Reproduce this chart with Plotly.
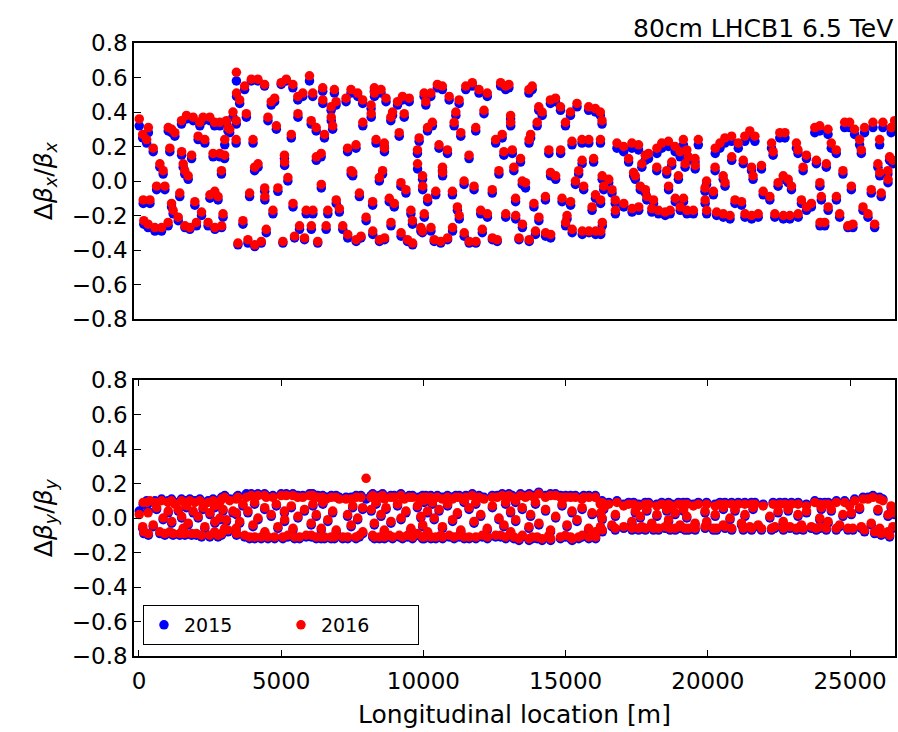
import plotly.graph_objects as go

# BPM longitudinal positions [m]
s_pos = [
    10, 130, 150, 170, 270, 320, 330, 385, 500, 560,
    620, 735, 795, 850, 910, 1025, 1030, 1085, 1145, 1150,
    1200, 1260, 1380, 1435, 1495, 1500, 1555, 1610, 1615, 1670,
    1730, 1790, 1850, 1905, 1965, 2020, 2080, 2140, 2200, 2255,
    2315, 2430, 2490, 2495, 2605, 2660, 2665, 2670, 2780, 2840,
    2845, 2900, 2905, 2955, 3010, 3015, 3075, 3130, 3190, 3305,
    3415, 3420, 3425, 3430, 3480, 3540, 3655, 3715, 3775, 3830,
    3890, 3950, 4010, 4065, 4070, 4180, 4185, 4300, 4415, 4420,
    4425, 4475, 4535, 4650, 4710, 4770, 4830, 4885, 5000, 5060,
    5115, 5120, 5180, 5235, 5355, 5410, 5415, 5470, 5585, 5590,
    5645, 5760, 5820, 5880, 5995, 6055, 6060, 6110, 6115, 6230,
    6235, 6285, 6405, 6410, 6460, 6465, 6520, 6580, 6640, 6755,
    6760, 6810, 6870, 6930, 6935, 7045, 7165, 7280, 7335, 7340,
    7455, 7460, 7515, 7630, 7635, 7690, 7750, 7805, 7865, 7870,
    7985,
    8160, 8165, 8215, 8220, 8275, 8280, 8335, 8450, 8455, 8510,
    8565, 8625, 8630, 8635, 8685, 8800, 8855, 8860, 8915, 8975,
    9090, 9150, 9210, 9215, 9265, 9325, 9385, 9440, 9500, 9560,
    9615, 9620, 9790, 9795, 9850, 9910, 9965, 9970, 9975, 10025,
    10030, 10085, 10145, 10150, 10260, 10265, 10315, 10380, 10435, 10490,
    10550, 10610, 10665, 10670, 10675, 10845, 10850, 10905, 11020, 11025,
    11080, 11140, 11195, 11255, 11260, 11315, 11430, 11435, 11490, 11605,
    11610, 11720, 11780, 11840, 11845, 11955, 12015, 12070, 12130, 12245,
    12250, 12420, 12425, 12540, 12595, 12655, 12715, 12770, 12830, 12890,
    12895, 13005, 13065, 13070, 13125, 13180, 13240, 13245, 13360, 13415,
    13475, 13480, 13590, 13710, 13715, 13720, 13770, 13825, 13885, 13940,
    14000, 14055, 14060, 14175, 14290, 14295, 14410, 14465, 14470, 14475,
    14645, 14650, 14820, 14825, 14875, 14995, 15000, 15050, 15170, 15175,
    15225, 15230, 15345, 15400, 15460, 15575, 15580, 15585, 15635, 15810,
    15815, 15820, 15930, 15985, 16045, 16050, 16055,
    16220, 16225, 16230, 16235, 16280, 16285, 16290, 16340, 16515, 16630,
    16745, 16750, 16805, 17040, 17045, 17215, 17330, 17335, 17390, 17450,
    17565, 17570, 17625, 17680, 17800, 17805, 17855, 17915, 18030, 18090,
    18205, 18210, 18265, 18380, 18500, 18555, 18615, 18620, 18675, 18730,
    18850, 18855, 18965, 19025, 19030, 19140, 19145, 19200, 19260, 19265,
    19315, 19490, 19550, 19555, 19665, 19900, 19905, 19955, 19960, 20195,
    20255, 20260, 20310, 20425, 20540, 20545, 20600, 20605, 20780, 20835,
    20840, 20955, 21070, 21185, 21245, 21300, 21305, 21475, 21535, 21540,
    21590, 21655, 21770, 21885, 21945, 22180, 22240, 22295, 22355, 22470,
    22530, 22650, 22655, 22710, 22825, 22885, 22940, 23115, 23170, 23175,
    23290, 23350, 23465, 23470, 23640, 23760, 23815, 23935, 23940, 23945,
    23990, 24110, 24165, 24225, 24230, 24340, 24515, 24520, 24635, 24750,
    24810, 24925, 24985, 25045, 25100, 25160, 25335, 25395, 25455, 25510,
    25630, 25745, 25805, 25865, 25980, 26040, 26045, 26095, 26155, 26330,
    26335, 26390, 26445, 26505, 26565,
]

# Horizontal beta-beating, 2016
bx_2016 = [
    0.36, 0.27, -0.11, -0.23, 0.24, -0.25, 0.31, -0.11, 0.19, -0.27,
    -0.03, 0.10, -0.27, 0.06, -0.03, -0.24, 0.31, 0.19, -0.13, 0.30,
    -0.17, 0.28, -0.21, -0.07, 0.35, 0.17, 0.10, 0.06, -0.26, 0.38,
    0.03, -0.27, 0.15, 0.37, -0.12, -0.24, 0.26, 0.34, -0.18, 0.37,
    0.24, -0.24, 0.37, -0.08, 0.16, 0.34, -0.06, -0.27, -0.09, 0.34,
    0.16, 0.06, -0.26, -0.19, 0.15, 0.24, 0.35, 0.31, 0.30, 0.40,
    0.24, 0.35, 0.63, 0.51, -0.36, 0.47, -0.23, 0.55, 0.39, -0.34,
    -0.07, 0.59, 0.24, 0.08, -0.37, 0.59, 0.10, -0.35, 0.56, -0.04,
    -0.09, -0.28, 0.37, 0.46, -0.17, 0.48, 0.32, -0.04, 0.57, -0.35,
    0.15, 0.11, 0.59, 0.02, 0.27, 0.56, -0.13, -0.32, 0.49, 0.39,
    -0.26, 0.51, -0.33, -0.17, 0.61, 0.35, -0.26, 0.51, -0.17, 0.31,
    0.14, -0.35, 0.16, -0.02, 0.54, 0.47, 0.27, -0.26, -0.17, 0.43,
    0.37, 0.32, 0.53, 0.46, -0.11, -0.16, -0.26, 0.48, 0.19, -0.31,
    0.53, 0.06, 0.05, 0.21, -0.34, 0.51, -0.07, -0.32, 0.47, 0.34,
    -0.21,
    0.44, 0.39, -0.12, -0.29, 0.54, 0.51, 0.24, 0.02, -0.34, 0.53,
    0.06, 0.22, 0.19, -0.33, 0.48, -0.10, 0.37, -0.24, 0.40, -0.13,
    0.46, 0.28, -0.01, -0.30, 0.49, 0.39, -0.05, -0.34, 0.48, -0.17,
    -0.23, -0.36, 0.18, 0.10, 0.25, -0.27, -0.29, 0.03, -0.03, 0.51,
    -0.19, 0.46, 0.31, -0.10, 0.51, -0.27, 0.34, -0.34, -0.06, 0.56,
    0.21, -0.35, 0.55, 0.08, 0.05, 0.18, -0.33, 0.49, -0.06, -0.27,
    0.34, 0.40, -0.15, 0.47, -0.20, 0.28, 0.00, -0.30, 0.55, 0.15,
    -0.35, 0.57, -0.03, 0.31, -0.35, 0.53, -0.17, -0.28, 0.41, 0.51,
    -0.19, -0.05, -0.33, 0.24, -0.34, 0.06, 0.57, 0.27, 0.17, 0.55,
    -0.19, 0.56, 0.38, 0.34, 0.18, 0.08, -0.10, -0.20, -0.33, 0.13,
    0.00, -0.25, -0.01, 0.53, 0.24, -0.34, 0.27, 0.55, -0.13, -0.29,
    0.34, 0.43, -0.21, 0.40, -0.09, -0.30, 0.18, 0.47, 0.05, -0.31,
    0.48, 0.03, 0.43, 0.18, -0.10, 0.34, -0.24, -0.20, 0.40, -0.12,
    0.23, -0.28, 0.00, 0.45, 0.06, 0.24, 0.12, -0.29, -0.03, 0.43,
    0.24, -0.29, -0.15, 0.13, 0.42, -0.08, -0.29,
    0.40, 0.24, -0.11, -0.29, 0.35, 0.03, -0.24, -0.03, 0.01, -0.05,
    -0.11, -0.17, 0.22, 0.20, -0.13, 0.13, 0.22, -0.16, 0.05, 0.03,
    0.21, -0.15, -0.03, 0.10, 0.15, -0.05, -0.09, 0.16, -0.16, -0.11,
    0.08, 0.19, -0.17, 0.22, -0.18, 0.06, 0.23, -0.03, -0.17, 0.11,
    0.20, -0.10, 0.03, 0.17, -0.15, 0.24, -0.10, 0.10, 0.18, -0.17,
    0.14, -0.17, 0.13, 0.09, 0.24, -0.04, -0.11, 0.00, -0.17, -0.06,
    0.08, 0.19, -0.18, 0.22, 0.03, -0.19, 0.25, -0.01, -0.20, 0.26,
    0.14, -0.11, 0.22, -0.12, 0.12, 0.26, -0.19, 0.29, 0.08, -0.20,
    0.03, 0.26, -0.19, 0.09, -0.06, -0.09, 0.22, 0.17, -0.19, -0.01,
    0.28, 0.03, -0.20, 0.28, 0.01, -0.20, -0.03, 0.22, 0.18, -0.19,
    -0.11, 0.08, 0.15, -0.15, -0.13, 0.31, 0.12, 0.32, -0.01, -0.24,
    -0.09, -0.24, 0.10, 0.30, -0.15, 0.22, 0.18, -0.09, -0.19, 0.06,
    0.34, -0.26, 0.34, -0.03, -0.25, 0.30, 0.24, 0.18, -0.15, 0.31,
    -0.19, -0.05, 0.34, -0.25, 0.10, 0.24, 0.05, -0.07, 0.34, 0.06,
    0.01, 0.14, 0.31, 0.12, 0.35,
]

# Horizontal beta-beating, 2015
bx_2015 = [
    0.32, 0.25, -0.13, -0.25, 0.22, -0.27, 0.28, -0.13, 0.17, -0.29,
    -0.05, 0.08, -0.29, 0.04, -0.05, -0.26, 0.29, 0.17, -0.15, 0.28,
    -0.19, 0.26, -0.23, -0.09, 0.33, 0.15, 0.08, 0.04, -0.27, 0.36,
    0.01, -0.28, 0.13, 0.35, -0.14, -0.26, 0.24, 0.32, -0.20, 0.35,
    0.22, -0.26, 0.35, -0.10, 0.14, 0.32, -0.08, -0.28, -0.11, 0.32,
    0.14, 0.04, -0.27, -0.21, 0.13, 0.21, 0.33, 0.29, 0.28, 0.37,
    0.22, 0.33, 0.58, 0.49, -0.37, 0.45, -0.25, 0.53, 0.37, -0.36,
    -0.09, 0.58, 0.22, 0.06, -0.38, 0.58, 0.08, -0.36, 0.55, -0.06,
    -0.11, -0.30, 0.35, 0.44, -0.19, 0.46, 0.30, -0.06, 0.56, -0.36,
    0.13, 0.09, 0.58, 0.00, 0.25, 0.54, -0.15, -0.33, 0.47, 0.37,
    -0.28, 0.49, -0.34, -0.19, 0.58, 0.33, -0.28, 0.49, -0.19, 0.29,
    0.12, -0.36, 0.14, -0.04, 0.52, 0.45, 0.25, -0.28, -0.19, 0.41,
    0.35, 0.30, 0.51, 0.44, -0.13, -0.18, -0.28, 0.46, 0.17, -0.33,
    0.51, 0.04, 0.03, 0.19, -0.35, 0.49, -0.09, -0.33, 0.45, 0.32,
    -0.23,
    0.42, 0.37, -0.14, -0.31, 0.52, 0.49, 0.22, 0.00, -0.35, 0.51,
    0.04, 0.20, 0.17, -0.34, 0.46, -0.12, 0.35, -0.26, 0.38, -0.15,
    0.44, 0.26, -0.03, -0.32, 0.47, 0.37, -0.07, -0.35, 0.46, -0.19,
    -0.25, -0.37, 0.16, 0.07, 0.23, -0.29, -0.30, 0.01, -0.05, 0.49,
    -0.21, 0.44, 0.29, -0.12, 0.49, -0.29, 0.32, -0.35, -0.08, 0.54,
    0.19, -0.36, 0.53, 0.06, 0.03, 0.16, -0.34, 0.47, -0.08, -0.29,
    0.32, 0.38, -0.17, 0.45, -0.22, 0.26, -0.02, -0.32, 0.53, 0.13,
    -0.36, 0.55, -0.05, 0.29, -0.36, 0.51, -0.19, -0.30, 0.39, 0.49,
    -0.21, -0.07, -0.34, 0.22, -0.35, 0.04, 0.55, 0.25, 0.15, 0.53,
    -0.21, 0.54, 0.36, 0.32, 0.16, 0.06, -0.12, -0.22, -0.34, 0.11,
    -0.02, -0.27, -0.04, 0.51, 0.22, -0.35, 0.25, 0.53, -0.15, -0.31,
    0.32, 0.41, -0.23, 0.38, -0.11, -0.32, 0.16, 0.45, 0.03, -0.33,
    0.46, 0.01, 0.41, 0.16, -0.12, 0.32, -0.26, -0.22, 0.38, -0.14,
    0.21, -0.30, -0.02, 0.43, 0.04, 0.22, 0.10, -0.31, -0.05, 0.41,
    0.22, -0.30, -0.17, 0.11, 0.40, -0.10, -0.31,
    0.38, 0.22, -0.13, -0.31, 0.33, 0.01, -0.26, -0.05, -0.01, -0.07,
    -0.13, -0.19, 0.19, 0.17, -0.15, 0.11, 0.19, -0.18, 0.03, 0.01,
    0.18, -0.17, -0.05, 0.08, 0.12, -0.07, -0.11, 0.13, -0.18, -0.13,
    0.06, 0.16, -0.19, 0.19, -0.20, 0.04, 0.20, -0.05, -0.19, 0.09,
    0.17, -0.12, 0.01, 0.14, -0.17, 0.21, -0.12, 0.08, 0.15, -0.19,
    0.12, -0.19, 0.11, 0.07, 0.21, -0.06, -0.13, -0.02, -0.19, -0.08,
    0.06, 0.16, -0.20, 0.19, 0.01, -0.21, 0.22, -0.03, -0.22, 0.23,
    0.12, -0.13, 0.19, -0.14, 0.10, 0.23, -0.21, 0.26, 0.06, -0.22,
    0.01, 0.23, -0.21, 0.07, -0.08, -0.11, 0.19, 0.15, -0.21, -0.03,
    0.25, 0.01, -0.22, 0.25, -0.01, -0.22, -0.05, 0.19, 0.16, -0.21,
    -0.13, 0.06, 0.13, -0.17, -0.15, 0.28, 0.10, 0.29, -0.03, -0.26,
    -0.11, -0.26, 0.08, 0.27, -0.17, 0.19, 0.16, -0.11, -0.21, 0.04,
    0.31, -0.27, 0.31, -0.05, -0.27, 0.27, 0.21, 0.16, -0.17, 0.28,
    -0.21, -0.07, 0.31, -0.27, 0.08, 0.21, 0.03, -0.09, 0.31, 0.04,
    -0.01, 0.12, 0.28, 0.10, 0.32,
]

# Vertical beta-beating, 2016
by_2016 = [
    0.02, -0.05, 0.09, -0.08, 0.09, 0.03, -0.09, 0.10, -0.04, 0.09,
    0.06, -0.08, 0.10, 0.00, -0.09, 0.09, 0.04, -0.08, 0.10, -0.02,
    -0.09, 0.08, 0.05, -0.09, 0.10, 0.01, -0.06, 0.09, -0.09, 0.07,
    -0.03, 0.10, -0.09, 0.04, 0.09, -0.09, 0.01, 0.10, -0.10, 0.06,
    -0.05, 0.09, -0.10, 0.03, 0.10, -0.08, 0.07, -0.02, -0.10, 0.09,
    0.00, -0.09, 0.11, 0.05, -0.06, 0.12, -0.01, -0.07, 0.10, 0.04,
    -0.06, 0.11, 0.03, -0.09, 0.12, -0.02, 0.08, -0.10, 0.12, 0.04,
    -0.11, 0.13, -0.04, 0.09, -0.11, 0.13, 0.00, -0.11, 0.13, 0.06,
    -0.08, 0.12, -0.11, 0.02, 0.12, -0.11, 0.08, -0.05, 0.13, -0.11,
    0.04, -0.01, 0.13, -0.10, 0.07, 0.13, -0.06, -0.11, 0.12, 0.01,
    -0.11, 0.12, 0.05, -0.10, 0.13, -0.03, -0.10, 0.13, 0.08, -0.11,
    0.02, 0.12, -0.11, -0.06, 0.12, 0.09, -0.11, 0.11, -0.01, -0.11,
    0.12, 0.04, -0.11, 0.12, -0.07, 0.11, -0.11, 0.11, 0.02, -0.11,
    0.11, -0.04, 0.07, -0.11, 0.12, 0.00, -0.10, 0.12, 0.06, -0.08,
    0.23,
    0.12, 0.05, -0.10, 0.13, -0.03, -0.11, 0.09, 0.12, -0.11, 0.02,
    0.13, -0.07, -0.11, 0.11, 0.06, -0.10, 0.12, -0.02, -0.11, 0.12,
    0.08, -0.10, 0.13, 0.00, -0.11, 0.11, 0.04, -0.10, 0.12, -0.06,
    -0.11, 0.12, 0.07, -0.09, 0.11, 0.01, -0.11, 0.12, -0.04, 0.10,
    -0.11, 0.12, 0.04, -0.08, 0.12, -0.11, 0.09, 0.00, -0.11, 0.12,
    0.05, -0.10, 0.11, -0.05, -0.11, 0.12, 0.08, -0.10, 0.11, -0.01,
    -0.11, 0.12, 0.03, -0.10, 0.12, -0.07, 0.10, -0.11, 0.12, 0.06,
    -0.11, 0.13, -0.02, 0.09, -0.11, 0.12, 0.02, -0.10, 0.11, -0.06,
    -0.11, 0.12, 0.07, -0.10, 0.12, 0.00, -0.10, 0.13, -0.04, 0.09,
    -0.11, 0.13, 0.04, -0.08, 0.12, -0.11, 0.10, -0.01, -0.12, 0.13,
    0.06, -0.10, 0.12, -0.05, -0.12, 0.13, 0.02, -0.11, 0.12, 0.09,
    -0.11, 0.14, -0.03, -0.12, 0.12, 0.05, -0.10, 0.13, -0.07, -0.12,
    0.13, 0.01, -0.11, 0.12, 0.08, -0.10, 0.12, -0.04, -0.11, 0.12,
    0.04, -0.12, 0.12, -0.01, -0.11, 0.11, 0.06, -0.10, 0.12, -0.06,
    -0.11, 0.12, 0.03, -0.10, 0.12, -0.08, -0.11,
    0.08, -0.05, 0.03, -0.06, 0.09, 0.00, -0.07, 0.06, 0.08, -0.04,
    -0.06, 0.02, 0.09, 0.07, -0.05, 0.08, -0.02, -0.06, 0.08, 0.04,
    -0.06, 0.07, 0.01, -0.05, 0.08, -0.06, 0.05, 0.08, -0.03, -0.06,
    0.07, 0.02, -0.06, 0.08, -0.05, 0.05, 0.08, -0.01, -0.06, 0.07,
    0.03, -0.06, 0.08, -0.04, -0.05, 0.08, 0.05, -0.06, 0.01, 0.08,
    -0.06, 0.07, -0.03, -0.06, 0.08, 0.04, -0.05, 0.08, -0.02, -0.06,
    0.07, 0.02, -0.06, 0.08, -0.04, 0.06, 0.08, -0.05, 0.00, 0.08,
    -0.06, 0.05, 0.08, -0.03, -0.06, 0.08, 0.02, -0.05, 0.08, -0.06,
    0.06, 0.08, -0.04, -0.06, 0.07, 0.01, -0.06, 0.08, -0.05, 0.04,
    0.08, -0.02, -0.06, 0.08, 0.05, -0.05, 0.08, -0.06, 0.02, 0.08,
    -0.04, -0.06, 0.07, 0.04, -0.05, 0.09, -0.06, 0.00, 0.08, -0.05,
    0.06, 0.08, -0.06, -0.02, 0.08, 0.05, -0.06, 0.09, -0.04, 0.02,
    0.09, -0.06, 0.07, 0.03, -0.06, 0.10, 0.06, -0.05, 0.11, -0.07,
    0.11, -0.03, 0.12, -0.08, 0.05, 0.11, -0.06, -0.09, 0.10, -0.08,
    0.02, -0.10, 0.07, -0.05, 0.03,
]

# Vertical beta-beating, 2015
by_2015 = [
    0.04, -0.06, 0.08, -0.09, 0.10, 0.04, -0.10, 0.09, -0.05, 0.10,
    0.05, -0.09, 0.11, -0.01, -0.10, 0.10, 0.03, -0.09, 0.11, -0.03,
    -0.10, 0.09, 0.04, -0.10, 0.11, 0.00, -0.07, 0.10, -0.10, 0.06,
    -0.04, 0.11, -0.10, 0.03, 0.10, -0.10, 0.00, 0.11, -0.11, 0.05,
    -0.06, 0.10, -0.11, 0.02, 0.11, -0.09, 0.06, -0.03, -0.11, 0.10,
    -0.01, -0.10, 0.12, 0.04, -0.07, 0.13, -0.02, -0.08, 0.11, 0.03,
    -0.07, 0.12, 0.02, -0.10, 0.13, -0.03, 0.07, -0.11, 0.14, 0.03,
    -0.12, 0.14, -0.05, 0.08, -0.12, 0.14, -0.01, -0.12, 0.14, 0.05,
    -0.09, 0.13, -0.12, 0.01, 0.13, -0.12, 0.07, -0.06, 0.14, -0.12,
    0.03, -0.02, 0.14, -0.11, 0.06, 0.14, -0.07, -0.12, 0.13, 0.00,
    -0.12, 0.13, 0.04, -0.11, 0.14, -0.04, -0.11, 0.14, 0.07, -0.12,
    0.01, 0.13, -0.12, -0.07, 0.13, 0.08, -0.12, 0.12, -0.02, -0.12,
    0.13, 0.03, -0.12, 0.13, -0.08, 0.12, -0.12, 0.12, 0.01, -0.12,
    0.12, -0.05, 0.06, -0.12, 0.13, -0.01, -0.11, 0.13, 0.05, -0.09,
    0.11,
    0.13, 0.04, -0.11, 0.14, -0.04, -0.12, 0.08, 0.13, -0.12, 0.01,
    0.14, -0.08, -0.12, 0.12, 0.05, -0.11, 0.13, -0.03, -0.12, 0.13,
    0.07, -0.11, 0.14, -0.01, -0.12, 0.12, 0.03, -0.11, 0.13, -0.07,
    -0.12, 0.13, 0.06, -0.10, 0.12, 0.00, -0.12, 0.13, -0.05, 0.09,
    -0.12, 0.13, 0.03, -0.09, 0.13, -0.12, 0.08, -0.01, -0.12, 0.13,
    0.04, -0.11, 0.12, -0.06, -0.12, 0.13, 0.07, -0.11, 0.12, -0.02,
    -0.12, 0.13, 0.02, -0.11, 0.13, -0.08, 0.09, -0.12, 0.13, 0.05,
    -0.12, 0.14, -0.03, 0.08, -0.12, 0.13, 0.01, -0.11, 0.12, -0.07,
    -0.12, 0.13, 0.06, -0.11, 0.13, -0.01, -0.11, 0.14, -0.05, 0.08,
    -0.12, 0.14, 0.03, -0.09, 0.13, -0.12, 0.09, -0.02, -0.13, 0.14,
    0.05, -0.11, 0.13, -0.06, -0.13, 0.14, 0.01, -0.12, 0.13, 0.08,
    -0.12, 0.15, -0.04, -0.13, 0.13, 0.04, -0.11, 0.14, -0.08, -0.13,
    0.14, 0.00, -0.12, 0.13, 0.07, -0.11, 0.13, -0.05, -0.12, 0.13,
    0.03, -0.13, 0.13, -0.02, -0.12, 0.12, 0.05, -0.11, 0.13, -0.07,
    -0.12, 0.13, 0.02, -0.11, 0.13, -0.09, -0.12,
    0.09, -0.06, 0.02, -0.07, 0.10, -0.01, -0.08, 0.05, 0.09, -0.05,
    -0.07, 0.01, 0.10, 0.08, -0.06, 0.09, -0.03, -0.07, 0.09, 0.03,
    -0.07, 0.08, 0.00, -0.06, 0.09, -0.07, 0.04, 0.09, -0.04, -0.07,
    0.08, 0.01, -0.07, 0.09, -0.06, 0.04, 0.09, -0.02, -0.07, 0.08,
    0.02, -0.07, 0.09, -0.05, -0.06, 0.09, 0.04, -0.07, 0.00, 0.09,
    -0.07, 0.08, -0.04, -0.07, 0.09, 0.03, -0.06, 0.09, -0.03, -0.07,
    0.08, 0.01, -0.07, 0.09, -0.05, 0.05, 0.09, -0.06, -0.01, 0.09,
    -0.07, 0.04, 0.09, -0.04, -0.07, 0.09, 0.01, -0.06, 0.09, -0.07,
    0.05, 0.09, -0.05, -0.07, 0.08, 0.00, -0.07, 0.09, -0.06, 0.03,
    0.09, -0.03, -0.07, 0.09, 0.04, -0.06, 0.09, -0.07, 0.01, 0.09,
    -0.05, -0.07, 0.08, 0.03, -0.06, 0.10, -0.07, -0.01, 0.09, -0.06,
    0.05, 0.09, -0.07, -0.03, 0.09, 0.04, -0.07, 0.10, -0.05, 0.01,
    0.10, -0.07, 0.08, 0.02, -0.07, 0.11, 0.05, -0.06, 0.12, -0.08,
    0.12, -0.04, 0.13, -0.09, 0.04, 0.12, -0.07, -0.10, 0.11, -0.09,
    0.01, -0.11, 0.06, -0.06, 0.02,
]

years = ["2015", "2016"]
colors = {"2015": "#0000ff", "2016": "#ff0000"}
y_ticks = [-0.8, -0.6, -0.4, -0.2, 0.0, 0.2, 0.4, 0.6, 0.8]
x_ticks = [0, 5000, 10000, 15000, 20000, 25000]

n = len(s_pos)
for name, arr in [("bx_2016", bx_2016), ("bx_2015", bx_2015), ("by_2016", by_2016), ("by_2015", by_2015)]:
    assert len(arr) == n, (name, len(arr), n)

FONT = "DejaVu Sans"
W, H = 898, 732
ML, MR, MT, MB = 134, 1, 43, 76
plot_h = H - MT - MB
panel_h = 276
top_dom = [1 - panel_h / plot_h, 1]
bot_dom = [0, panel_h / plot_h]

series = {
    ("2015", "x"): bx_2015, ("2016", "x"): bx_2016,
    ("2015", "y"): by_2015, ("2016", "y"): by_2016,
}

fig = go.Figure()
for plane, xa, ya in [("x", "x", "y"), ("y", "x2", "y2")]:
    for yr in years:
        fig.add_trace(go.Scatter(
            x=s_pos, y=series[(yr, plane)], xaxis=xa, yaxis=ya,
            mode="markers", name=yr, showlegend=(plane == "y"),
            marker=dict(color=colors[yr], size=9.5, line=dict(width=0)),
            error_y=dict(type="constant", value=0.012, color=colors[yr],
                         thickness=1, width=3),
        ))

axis_common = dict(showline=True, linecolor="black", linewidth=1.5, mirror=True,
                   showgrid=False, zeroline=False)
xr = [-175, 26580]
fig.update_layout(
    width=W, height=H,
    margin=dict(l=ML, r=MR, t=MT, b=MB),
    paper_bgcolor="white", plot_bgcolor="white",
    font=dict(family=FONT, size=23, color="black"),
    xaxis=dict(domain=[0, 1], anchor="y", range=xr, showticklabels=False,
               ticks="", matches="x2", **axis_common),
    yaxis=dict(domain=top_dom, anchor="x", range=[-0.8, 0.8], tickvals=y_ticks,
               tickformat=".1f", ticks="inside", ticklen=7, tickcolor="black",
               tickfont=dict(size=23), **axis_common),
    xaxis2=dict(domain=[0, 1], anchor="y2", range=xr, tickvals=x_ticks,
                tickformat="d", ticklabelstandoff=4,
                ticks="inside", ticklen=6, tickcolor="black",
                tickfont=dict(size=23),
                title=dict(text="Longitudinal location [m]", font=dict(size=25), standoff=12),
                **{**axis_common, "mirror": "ticks"}),
    yaxis2=dict(domain=bot_dom, anchor="x2", range=[-0.8, 0.8], tickvals=y_ticks,
                tickformat=".1f", ticks="inside", ticklen=7, tickcolor="black",
                tickfont=dict(size=23), **axis_common),
    legend=dict(orientation="h", x=(143 - ML) / (W - ML - MR), y=(H - MB - 645) / plot_h,
                xanchor="left", yanchor="bottom", bgcolor="white",
                bordercolor="black", borderwidth=1,
                font=dict(family=FONT, size=19), entrywidth=92, entrywidthmode="pixels"),
    showlegend=True,
)

ylab_x = (45 - ML) / (W - ML - MR)
fig.add_annotation(text="Δ<i>β</i><sub><i>x</i></sub>/<i>β</i><sub><i>x</i></sub>",
                   xref="paper", yref="paper", x=ylab_x, y=sum(top_dom) / 2,
                   textangle=-90, showarrow=False, font=dict(size=25),
                   xanchor="center", yanchor="middle")
fig.add_annotation(text="Δ<i>β</i><sub><i>y</i></sub>/<i>β</i><sub><i>y</i></sub>",
                   xref="paper", yref="paper", x=ylab_x, y=sum(bot_dom) / 2,
                   textangle=-90, showarrow=False, font=dict(size=25),
                   xanchor="center", yanchor="middle")
fig.add_annotation(text="80cm LHCB1 6.5 TeV", xref="paper", yref="paper",
                   x=1, y=1, xanchor="right", yanchor="bottom", showarrow=False,
                   font=dict(size=25), yshift=-2)

fig.write_html("out.html", config={"displayModeBar": False},
               post_script="document.body.style.margin='0';document.body.style.overflow='hidden';")
